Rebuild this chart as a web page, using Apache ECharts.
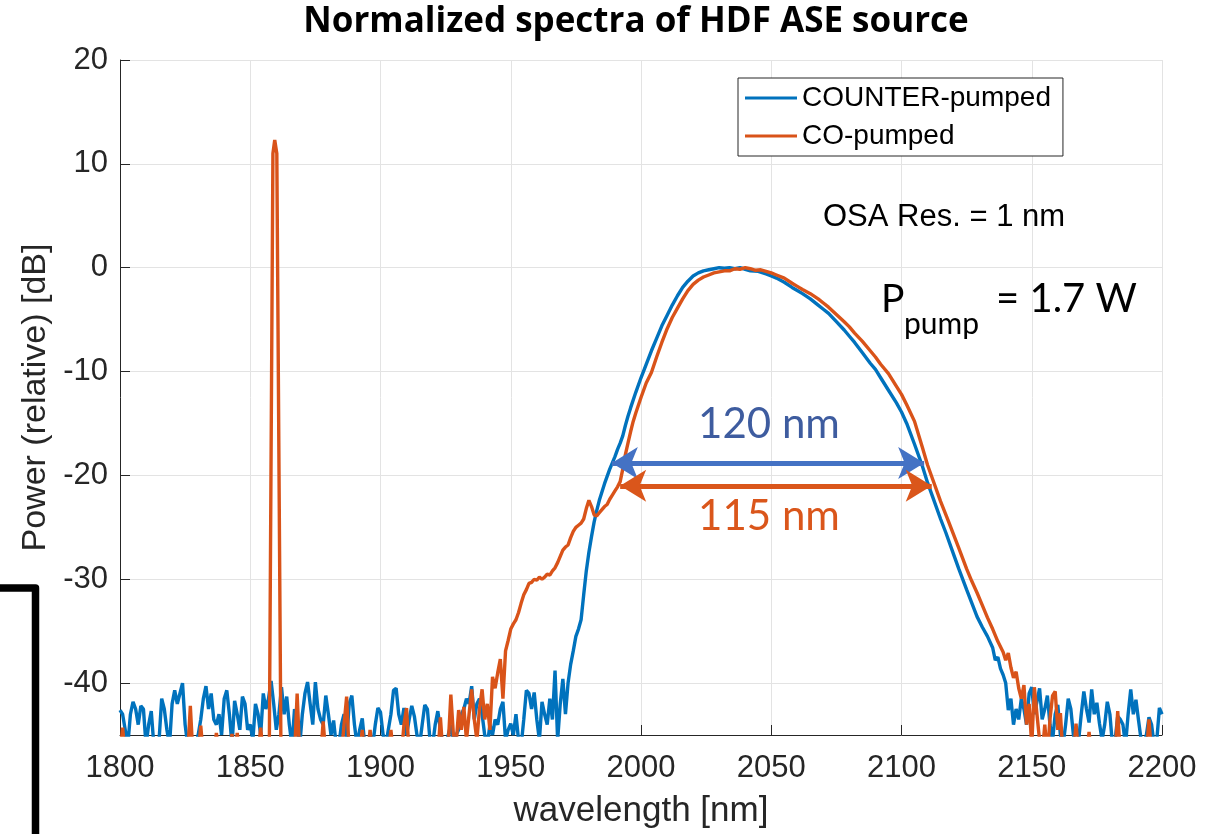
<!DOCTYPE html>
<html>
<head>
<meta charset="utf-8">
<script src="https://cdn.jsdelivr.net/npm/echarts@6/dist/echarts.min.js"></script>
<style>
html,body{margin:0;padding:0;background:#fff;}
#chart{width:1206px;height:834px;}
</style>
</head>
<body>
<div id="chart"></div>
<script>
// ---------------- DATA ----------------
const xTicks = [1800, 1850, 1900, 1950, 2000, 2050, 2100, 2150, 2200];
const yTicks = [-40, -30, -20, -10, 0, 10, 20];

// COUNTER-pumped (blue): noise floor left, 1 nm sampling from 1800 nm
const blueNoiseLeftStart = 1800;
const blueNoiseLeft = [
 -42.6,-43,-44.5,-46,-43,-41.8,-42.5,-44,-42.2,-42.5,
 -46,-44,-42.7,-46,-46,-45.5,-41.5,-42.5,-44.5,-46,
 -42,-40.7,-42,-41,-40,-44,-46,-45.5,-46,-46,
 -45,-43.5,-41.5,-40.3,-42.5,-41,-43.5,-44,-43,-45,
 -41.5,-40.7,-43,-46,-41.7,-43,-44.5,-41.3,-42,-44.5,
 -44,-45.5,-42,-43,-45,-41,-42.5,-41.5,-39.8,-42,
 -44.5,-43,-40.4,-43,-41.3,-44,-46,-42.5,-44,-46,
 -43,-41,-39.9,-42,-44,-39.9,-42.5,-43.5,-44,-41.2,
 -43,-45,-43.6,-46,-46,-44,-43,-45.5,-42,-41.2,
 -44,-46,-44.5,-43.4,-46,-46,-45,-46,-44,-42.4,
 -42.8,-45,-46,-44.5,-43,-40.7,-40.5,-43,-44,-42.4,
 -45,-43.5,-42.2,-43.2,-45,-46,-44,-42.1,-42.5,-45.5,
 -46,-44,-42.7,-44.5,-46,-46,-45,-44,-46,-45,
 -44.5,-43,-42.5,-41.5,-42,-40.3,-43.5,-42,-41.5,-43,
 -45,-46,-44,-45,-43.5,-44,-42.5,-41.8,-45.5,-44.5,
 -43.9,-45,-43,-45.5,-46,-43.5,-40.7,-41,-42.5,-40.9,
 -43.5,-45.5,-41.8,-43,-44,-41.5,-43.5,-38.8,-45.5,-42,
 -39.6,-43,-40,-38.2,-36.9,-35.5
];
// COUNTER-pumped (blue): main band
const blueHumpWl = [1976,1977,1978,1979,1980,1981,1982,1983,1984,1985,1986,1987,1988,1989,1990,1991,1992,1993,1994,1995,1996,1998,2000,2002,2004,2006,2008,2010,2012,2014,2016,2018,2020,2022,2024,2026,2028,2030,2032,2034,2036,2038,2040,2042,2045,2048,2050,2052,2055,2058,2060,2062,2065,2068,2070,2072,2075,2078,2080,2082,2085,2088,2090,2092,2095,2098,2100,2102,2105,2108,2110,2112,2115,2117,2120,2122,2125,2127,2129,2131,2133,2135,2136,2137,2138,2139,2140];
const blueHumpDb = [-34.8,-33.9,-31.5,-29.2,-27.4,-25.9,-24.5,-23.4,-22.4,-21.6,-20.8,-20.1,-19.4,-18.8,-18.2,-17.5,-16.9,-16.2,-15.2,-14.3,-13.5,-12.0,-10.6,-9.3,-8.0,-6.8,-5.6,-4.6,-3.6,-2.7,-1.9,-1.3,-0.8,-0.5,-0.3,-0.2,-0.1,0,-0.05,0,-0.1,0,-0.15,-0.3,-0.35,-0.6,-0.8,-1.0,-1.4,-1.9,-2.2,-2.5,-3.0,-3.6,-4.0,-4.4,-5.2,-6.0,-6.6,-7.2,-8.2,-9.2,-9.8,-10.6,-11.8,-13.0,-13.9,-15.0,-17.0,-19.1,-20.7,-22.1,-24.2,-25.5,-27.6,-29.0,-31.0,-32.3,-33.6,-34.6,-35.5,-36.6,-37.8,-37.5,-38.6,-39.2,-40.0];
// COUNTER-pumped (blue): noise floor right, 1 nm sampling from 2141 nm
const blueNoiseRightStart = 2141;
const blueNoiseRight = [
 -42.6,-41.5,-44,-42.5,-43.5,-41.5,-42.5,-44,-41,-40.4,
 -43,-41.8,-40.5,-43.5,-42.5,-41.2,-44,-45.5,-43,-42.1,
 -45,-46,-44,-41.5,-42.5,-45,-46,-45.5,-43,-40.8,
 -42.5,-43.8,-40.6,-43,-41.9,-43.9,-45.5,-44,-41.8,-43,
 -46,-45.5,-43.2,-43.5,-44,-46,-43,-40.6,-43,-41.6,
 -43.6,-45.5,-46,-45,-43.3,-44,-46,-45.5,-42.4,-43
];

// CO-pumped (orange): noise floor left, 1 nm sampling from 1800 nm
const orangeNoiseLeftStart = 1800;
const orangeNoiseLeft = [
 -47,-44.3,-47,-47,-47,-47,-47,-47,-47,-47,
 -47,-47,-47,-47,-47,-47,-47,-47,-47,-47,
 -47,-47,-47,-47,-47,-47,-47,-42.2,-47,-47,
 -47,-44.1,-47,-47,-47,-47,-47,-44.8,-47,-47,
 -47,-47,-47,-44.9,-47,-44.8,-47,-47,-47,-47,
 -47,-47,-47,-47,-44.3,-47,-47
];
// CO-pumped (orange): pump line near 1859 nm
const orangePeakWl = [1857.3, 1858.7, 1859.4, 1860.2, 1861.8];
const orangePeakDb = [-47, 11, 12.3, 11, -47];
// CO-pumped (orange): noise between pump and band, 1 nm sampling from 1862 nm
const orangeNoiseMidStart = 1862;
const orangeNoiseMid = [
 -47,-47,-47,-47,-47,-47,-41,-47,-47,-47,
 -47,-47,-47,-47,-47,-47,-43.7,-47,-47,-47,
 -47,-47,-47,-47,-44,-41.3,-47,-47,-47,-47,
 -47,-44.5,-47,-47,-44.5,-47,-47,-47,-47,-47,
 -47,-47,-44.5,-47,-47,-47,-47,-44,-42.4,-47,
 -47,-47,-47,-47,-47,-47,-47,-47,-47,-47,
 -47,-43.3,-47,-47,-46,-41.1,-45,-46,-42.6,-44.5,
 -42.3,-45.5,-43,-40.6,-43.5,-45.5,-42.5,-40.6,-43.5,-42,
 -44.5,-39.4
];
// CO-pumped (orange): main band
const orangeHumpWl = [1944,1945,1946,1947,1948,1949,1950,1951,1952,1953,1954,1955,1956,1957,1958,1959,1960,1961,1962,1963,1964,1965,1966,1967,1968,1969,1970,1971,1972,1973,1974,1975,1976,1977,1978,1979,1980,1981,1982,1983,1984,1985,1986,1987,1988,1989,1990,1991,1992,1993,1994,1995,1996,1997,1998,2000,2002,2004,2006,2008,2010,2012,2014,2016,2018,2020,2022,2024,2026,2028,2030,2032,2034,2036,2038,2040,2042,2044,2046,2048,2050,2052,2055,2058,2060,2062,2065,2068,2070,2072,2075,2078,2080,2082,2085,2088,2090,2092,2095,2098,2100,2102,2105,2108,2110,2112,2115,2118,2120,2122,2125,2127,2129,2131,2133,2135,2137,2139,2140,2141,2142,2143,2144,2145];
const orangeHumpDb = [-40.5,-39,-37.7,-41.5,-36.9,-35.9,-34.8,-34.3,-33.9,-33.2,-32.3,-31.5,-31.0,-30.4,-30.3,-30.0,-30.1,-29.8,-30.0,-29.8,-29.5,-29.6,-29.2,-28.9,-28.4,-27.8,-27.2,-26.9,-26.7,-26.0,-25.4,-25.0,-24.8,-24.6,-24.2,-23.2,-22.4,-23.0,-23.8,-23.9,-23.6,-23.3,-23.0,-22.8,-22.3,-21.9,-21.5,-21.1,-20.6,-19.4,-18.0,-16.9,-15.8,-14.8,-14.0,-12.5,-11.1,-10.1,-8.6,-7.2,-5.9,-4.8,-3.9,-3.0,-2.2,-1.6,-1.2,-0.9,-0.7,-0.5,-0.4,-0.3,-0.3,-0.1,-0.15,0,-0.1,-0.25,-0.2,-0.35,-0.5,-0.7,-1.0,-1.5,-1.8,-2.1,-2.5,-3.0,-3.4,-3.8,-4.5,-5.2,-5.7,-6.3,-7.1,-8.0,-8.6,-9.3,-10.2,-11.4,-12.2,-13.2,-14.8,-17.3,-19.0,-20.4,-22.5,-24.4,-25.7,-27.0,-29.0,-30.2,-31.3,-32.5,-33.7,-34.8,-36.0,-37.0,-37.8,-37.1,-38.5,-39.5,-38.9,-40.5];
// CO-pumped (orange): noise floor right, 1 nm sampling from 2146 nm
const orangeNoiseRightStart = 2146;
const orangeNoiseRight = [
 -41.5,-40.2,-44,-42,-46,-40.4,-43,-45.5,-47,-44,
 -47,-43.5,-41.2,-40.8,-44.5,-42.9,-47,-45.5,-47,-47,
 -47,-43.9,-47,-47,-47,-47,-44.7,-47,-47,-47,
 -47,-47,-47,-47,-47,-47,-47,-42.7,-47,-47,
 -47,-47,-47,-47,-47,-47,-47,-47,-47,-43.5,
 -47,-47,-47,-47,-47
];

// bandwidth arrows (wavelength ends, level in dB)
const blueArrow = {from: 1988.8, to: 2108.7, level: -18.8, label: '120 nm'};
const orangeArrow = {from: 1992.0, to: 2111.6, level: -21.0, label: '115 nm'};

// ---------------- BUILD ----------------
function uniform(start, vals) { return vals.map((v, i) => [start + i, v]); }
function pairs(wl, db) { return wl.map((w, i) => [w, db[i]]); }

const blueData = [].concat(
  uniform(blueNoiseLeftStart, blueNoiseLeft),
  pairs(blueHumpWl, blueHumpDb),
  uniform(blueNoiseRightStart, blueNoiseRight)
);
const orangeData = [].concat(
  uniform(orangeNoiseLeftStart, orangeNoiseLeft),
  pairs(orangePeakWl, orangePeakDb),
  uniform(orangeNoiseMidStart, orangeNoiseMid),
  pairs(orangeHumpWl, orangeHumpDb),
  uniform(orangeNoiseRightStart, orangeNoiseRight)
);

const BLUE = '#0072BD', ORANGE = '#D95319';
const AXIS = '#262626';
const chart = echarts.init(document.getElementById('chart'), null, {renderer: 'canvas'});

function arrowLine(a, color) {
  return {
    silent: true,
    symbol: ['arrow', 'arrow'],
    symbolSize: [24, 26],
    label: {show: false},
    lineStyle: {color: color, width: 5, type: 'solid'},
    emphasis: {disabled: true},
    data: [[{coord: [a.from, a.level]}, {coord: [a.to, a.level]}]]
  };
}

chart.setOption({
  animation: false,
  backgroundColor: '#ffffff',
  grid: {left: 120, right: 44, top: 60, bottom: 99, containLabel: false},
  xAxis: {
    type: 'value', min: 1800, max: 2200, interval: 50,
    name: 'wavelength [nm]', nameLocation: 'middle', nameGap: 59,
    nameTextStyle: {fontFamily: 'Liberation Sans', fontSize: 35, color: AXIS},
    axisLine: {show: true, onZero: false, lineStyle: {color: AXIS, width: 1}},
    axisTick: {show: true, inside: true, length: 10, lineStyle: {color: AXIS}},
    axisLabel: {fontFamily: 'Liberation Sans', fontSize: 31, color: AXIS, margin: 18,
      formatter: v => xTicks.indexOf(v) >= 0 ? String(v) : ''},
    splitLine: {show: true, lineStyle: {color: '#e3e3e3', width: 1}}
  },
  yAxis: {
    type: 'value', min: -45, max: 20,
    name: 'Power (relative) [dB]', nameLocation: 'middle', nameGap: 57, nameRotate: 90,
    nameTextStyle: {fontFamily: 'Liberation Sans', fontSize: 34, color: AXIS},
    axisLine: {show: true, onZero: false, lineStyle: {color: AXIS, width: 1}},
    axisTick: {show: true, inside: true, length: 10, lineStyle: {color: AXIS}, customValues: yTicks},
    axisLabel: {fontFamily: 'Liberation Sans', fontSize: 31, color: AXIS, margin: 12, customValues: yTicks},
    splitLine: {show: true, lineStyle: {color: '#e3e3e3', width: 1}}
  },
  legend: {
    orient: 'vertical', left: 738, top: 78,
    data: ['COUNTER-pumped', 'CO-pumped'],
    icon: 'rect', itemWidth: 52, itemHeight: 3, itemGap: 10,
    padding: [6, 12, 6, 7],
    backgroundColor: '#ffffff', borderColor: AXIS, borderWidth: 1, borderRadius: 0,
    textStyle: {fontFamily: 'Liberation Sans', fontSize: 28, color: '#000'},
    selectedMode: false
  },
  series: [
    {
      name: 'COUNTER-pumped', type: 'line', data: blueData, showSymbol: false, symbol: 'none',
      lineStyle: {color: BLUE, width: 3.4}, itemStyle: {color: BLUE}, z: 2, clip: true
    },
    {
      name: 'CO-pumped', type: 'line', data: orangeData, showSymbol: false, symbol: 'none',
      lineStyle: {color: ORANGE, width: 3.4}, itemStyle: {color: ORANGE}, z: 3, clip: true
    },
    {
      name: 'arrows-blue', type: 'line', data: [], z: 5,
      markLine: arrowLine(blueArrow, '#4472C4')
    },
    {
      name: 'arrows-orange', type: 'line', data: [], z: 5,
      markLine: arrowLine(orangeArrow, '#DA561B')
    }
  ],
  graphic: [
    {type: 'text', x: 636, y: 22, z: 10, style: {text: 'Normalized spectra of HDF ASE source',
      font: 'bold 35px "Open Sans"', fill: '#000', align: 'center', verticalAlign: 'middle'}},
    {type: 'text', x: 823, y: 217, z: 10, style: {text: 'OSA Res. = 1 nm',
      font: '31px "Liberation Sans"', fill: '#000', align: 'left', verticalAlign: 'middle'}},
    {type: 'text', x: 881, y: 299, z: 10, style: {text: 'P',
      font: '39px Lato', fill: '#000', align: 'left', verticalAlign: 'middle'}},
    {type: 'text', x: 904, y: 324, z: 10, style: {text: 'pump',
      font: '30px Lato', fill: '#000', align: 'left', verticalAlign: 'middle'}},
    {type: 'text', x: 996, y: 299, z: 10, style: {text: '= 1.7 W',
      font: '40px Lato', fill: '#000', align: 'left', verticalAlign: 'middle'}},
    {type: 'text', x: 769, y: 424, z: 10, style: {text: blueArrow.label,
      font: '42px Lato', fill: '#3E5C9F', align: 'center', verticalAlign: 'middle'}},
    {type: 'text', x: 769, y: 516, z: 10, style: {text: orangeArrow.label,
      font: '42px Lato', fill: '#DA561B', align: 'center', verticalAlign: 'middle'}},
    {type: 'polyline', z: 10, shape: {points: [[0, 588], [35.5, 588], [35.5, 840]]},
      style: {stroke: '#000', lineWidth: 7.5, fill: null, lineJoin: 'round', lineCap: 'butt'}}
  ]
});
</script>
</body>
</html>
